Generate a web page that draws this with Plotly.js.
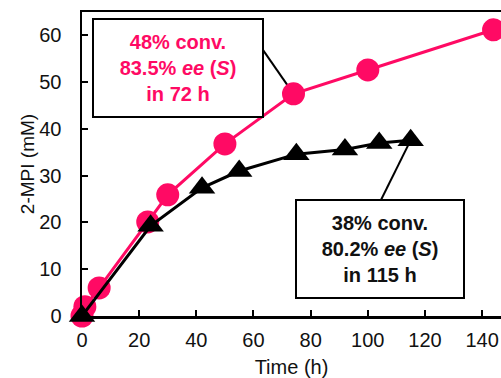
<!DOCTYPE html>
<html>
<head>
<meta charset="utf-8">
<script src="https://cdn.plot.ly/plotly-3.0.1.min.js"></script>
<style>html,body{margin:0;padding:0;background:#fff;overflow:hidden;}</style>
</head>
<body>
<div id="chart" style="width:501px;height:378px;"></div>
<script>
// Data
var redTime = [0, 1, 6, 23, 30, 50, 74, 100, 144];
var redMPI  = [0, 2, 6, 20.1, 25.9, 36.8, 47.5, 52.6, 61.2];
var blackTime = [0, 24, 42, 55, 75, 92, 104, 115];
var blackMPI  = [0, 19.3, 27.4, 31, 34.6, 35.6, 37, 37.6];
var xTicks = [0, 20, 40, 60, 80, 100, 120, 140];
var yTicks = [0, 10, 20, 30, 40, 50, 60];
var redLabel = '<b>48% conv.<br>83.5% <i>ee</i> (<i>S</i>)<br>in 72 h</b>';
var blackLabel = '<b>38% conv.<br>80.2% <i>ee</i> (<i>S</i>)<br>in 115 h</b>';

var PINK = '#ff0a64';
var FONT = 'Liberation Sans, Arial, sans-serif';

var traces = [
  {x: redTime, y: redMPI, type: 'scatter', mode: 'lines+markers', cliponaxis: false,
   line: {color: PINK, width: 3}, marker: {symbol: 'circle', size: 23, color: PINK}},
  {x: blackTime, y: blackMPI, type: 'scatter', mode: 'lines+markers', cliponaxis: false,
   line: {color: '#000', width: 3}, marker: {symbol: 'triangle-up', size: 23, color: '#000'}}
];

var rI = 6, bI = blackTime.length - 1;
var layout = {
  width: 501, height: 378,
  margin: {l: 82, r: 0, t: 12, b: 62},
  paper_bgcolor: '#fff', plot_bgcolor: '#fff',
  showlegend: false,
  font: {family: FONT, size: 20, color: '#000'},
  xaxis: {range: [0, 146.6], tickvals: xTicks, ticktext: xTicks.map(String),
          ticks: 'inside', ticklen: 6, tickwidth: 2, tickcolor: '#000',
          showline: true, linewidth: 2.5, linecolor: '#000', mirror: true,
          showgrid: false, zeroline: false, ticklabelstandoff: 4,
          tickfont: {family: FONT, size: 20, color: '#111'},
          title: {text: 'Time (h)', font: {family: FONT, size: 20, color: '#111'}, standoff: 13}},
  yaxis: {range: [0, 65], tickvals: yTicks, ticktext: yTicks.map(String),
          ticks: 'inside', ticklen: 6, tickwidth: 2, tickcolor: '#000',
          showline: true, linewidth: 2.5, linecolor: '#000', mirror: false,
          showgrid: false, zeroline: false, ticklabelstandoff: 14,
          tickfont: {family: FONT, size: 20, color: '#111'},
          title: {text: '2-MPI (mM)', font: {family: FONT, size: 19, color: '#111'}, standoff: 0}},
  shapes: [
    {type: 'line', xref: 'x', yref: 'y', layer: 'below', x0: 63.3, y0: 56.9,
     x1: redTime[rI], y1: redMPI[rI], line: {color: '#000', width: 2}},
    {type: 'line', xref: 'x', yref: 'y', layer: 'below', x0: 104.6, y0: 24.8,
     x1: blackTime[bI], y1: blackMPI[bI], line: {color: '#000', width: 2}}
  ],
  annotations: [
    {xref: 'x', yref: 'y', x: 33.6, y: 53.0, text: redLabel, showarrow: false,
     width: 166, height: 94, borderpad: 1, borderwidth: 2, bordercolor: '#000', bgcolor: '#fff',
     font: {family: FONT, size: 20, color: PINK}, align: 'center'},
    {xref: 'x', yref: 'y', x: 104.3, y: 14.3, text: blackLabel, showarrow: false,
     width: 164, height: 94, borderpad: 1, borderwidth: 2, bordercolor: '#000', bgcolor: '#fff',
     font: {family: FONT, size: 20, color: '#111'}, align: 'center'}
  ]
};

Plotly.newPlot('chart', traces, layout, {displayModeBar: false, staticPlot: true});
</script>
</body>
</html>
